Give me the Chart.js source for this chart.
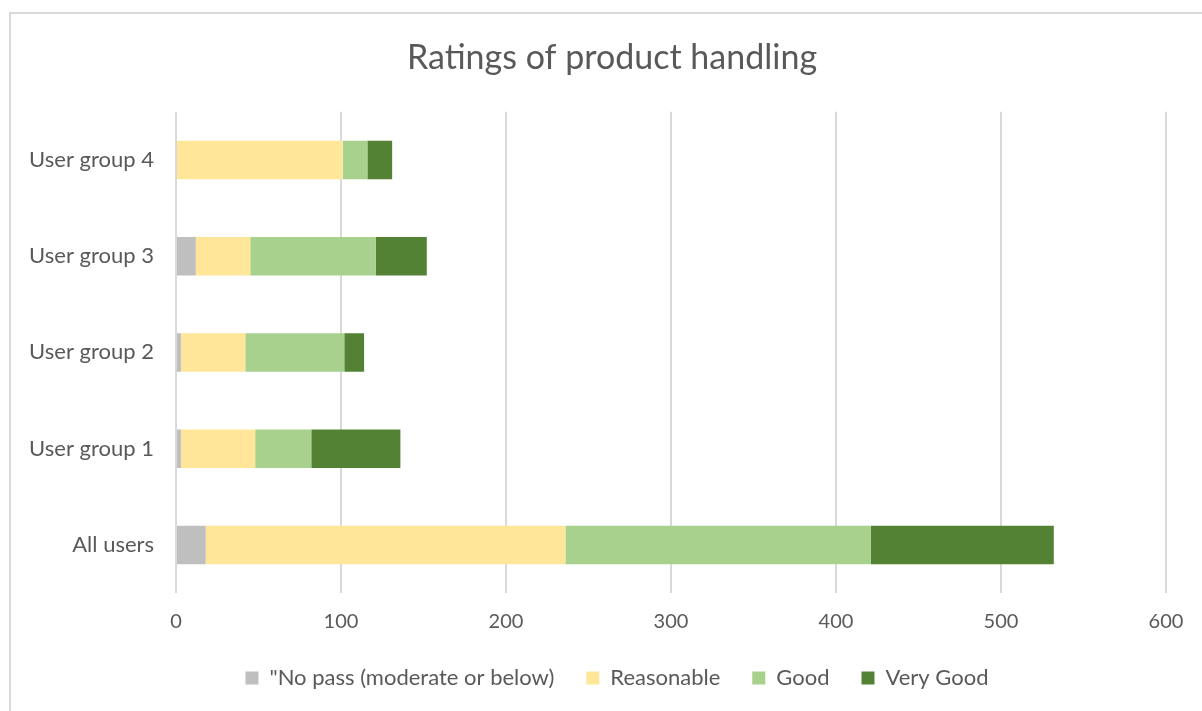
<!DOCTYPE html>
<html>
<head>
<meta charset="utf-8">
<script src="https://cdn.jsdelivr.net/npm/chart.js@4.4.0/dist/chart.umd.min.js"></script>
<style>
  html, body { margin: 0; padding: 0; background: #fff; }
  #frame {
    position: absolute; left: 9px; top: 12px; width: 1200px; height: 710px;
    border-top: 2px solid #d9d9d9; border-left: 2px solid #d9d9d9;
  }
  #wrap { position: absolute; left: 0; top: 0; width: 1202px; height: 711px; }
</style>
</head>
<body>
<div id="frame"></div>
<div id="wrap"><canvas id="chart" width="1202" height="711"></canvas></div>
<script>
// categories top to bottom
const groups = ['User group 4', 'User group 3', 'User group 2', 'User group 1', 'All users'];

// counts per rating
const noPass     = [0, 12, 3, 3, 18];
const reasonable = [101, 33, 39, 45, 218];
const good       = [15, 76, 60, 34, 185];
const veryGood   = [15, 31, 12, 54, 111];

const seriesNames = ['"No pass (moderate or below)', 'Reasonable', 'Good', 'Very Good'];
const seriesColors = ['#bfbfbf', '#ffe699', '#a9d18e', '#548235'];

const textColor = '#595959';
const fontFamily = 'Lato, "Noto Sans", sans-serif';

// title and legend sit right of the canvas centre in the original
const shiftBoxes = {
  id: 'shiftBoxes',
  afterLayout(chart) {
    const lg = chart.legend;
    if (lg) {
      lg.left += 34;
      lg.right += 34;
      if (lg.adjustHitBoxes) lg.adjustHitBoxes();
    }
    const tb = chart.titleBlock;
    if (tb) {
      tb.left += 29;
      tb.right += 29;
    }
  }
};

const ctx = document.getElementById('chart').getContext('2d');
new Chart(ctx, {
  type: 'bar',
  data: {
    labels: groups,
    datasets: [noPass, reasonable, good, veryGood].map((vals, i) => ({
      label: seriesNames[i],
      data: vals,
      backgroundColor: seriesColors[i],
      borderWidth: 0,
      barPercentage: 0.8,
      categoryPercentage: 0.5
    }))
  },
  options: {
    indexAxis: 'y',
    responsive: false,
    animation: false,
    layout: { padding: { left: 0, right: 36, top: 0, bottom: 12 } },
    scales: {
      x: {
        stacked: true,
        min: 0,
        max: 600,
        ticks: { stepSize: 100, color: textColor, padding: 17, font: { family: fontFamily, size: 20 } },
        grid: { color: '#d9d9d9', lineWidth: 2, drawTicks: false },
        border: { display: false },
        afterFit: (s) => { s.height = 42; }
      },
      y: {
        stacked: true,
        ticks: { color: textColor, padding: 22, font: { family: fontFamily, size: 22 } },
        grid: { display: false, drawTicks: false },
        border: { display: false },
        afterFit: (s) => { s.width = 176; }
      }
    },
    plugins: {
      title: {
        display: true,
        text: 'Ratings of product handling',
        color: textColor,
        font: { family: fontFamily, size: 34, weight: 'normal' },
        padding: { top: 38, bottom: 33 }
      },
      legend: {
        position: 'bottom',
        labels: {
          color: textColor,
          boxWidth: 13,
          boxHeight: 13,
          padding: 32,
          font: { family: fontFamily, size: 22 }
        }
      },
      tooltip: { enabled: false }
    }
  },
  plugins: [shiftBoxes]
});
</script>
</body>
</html>
